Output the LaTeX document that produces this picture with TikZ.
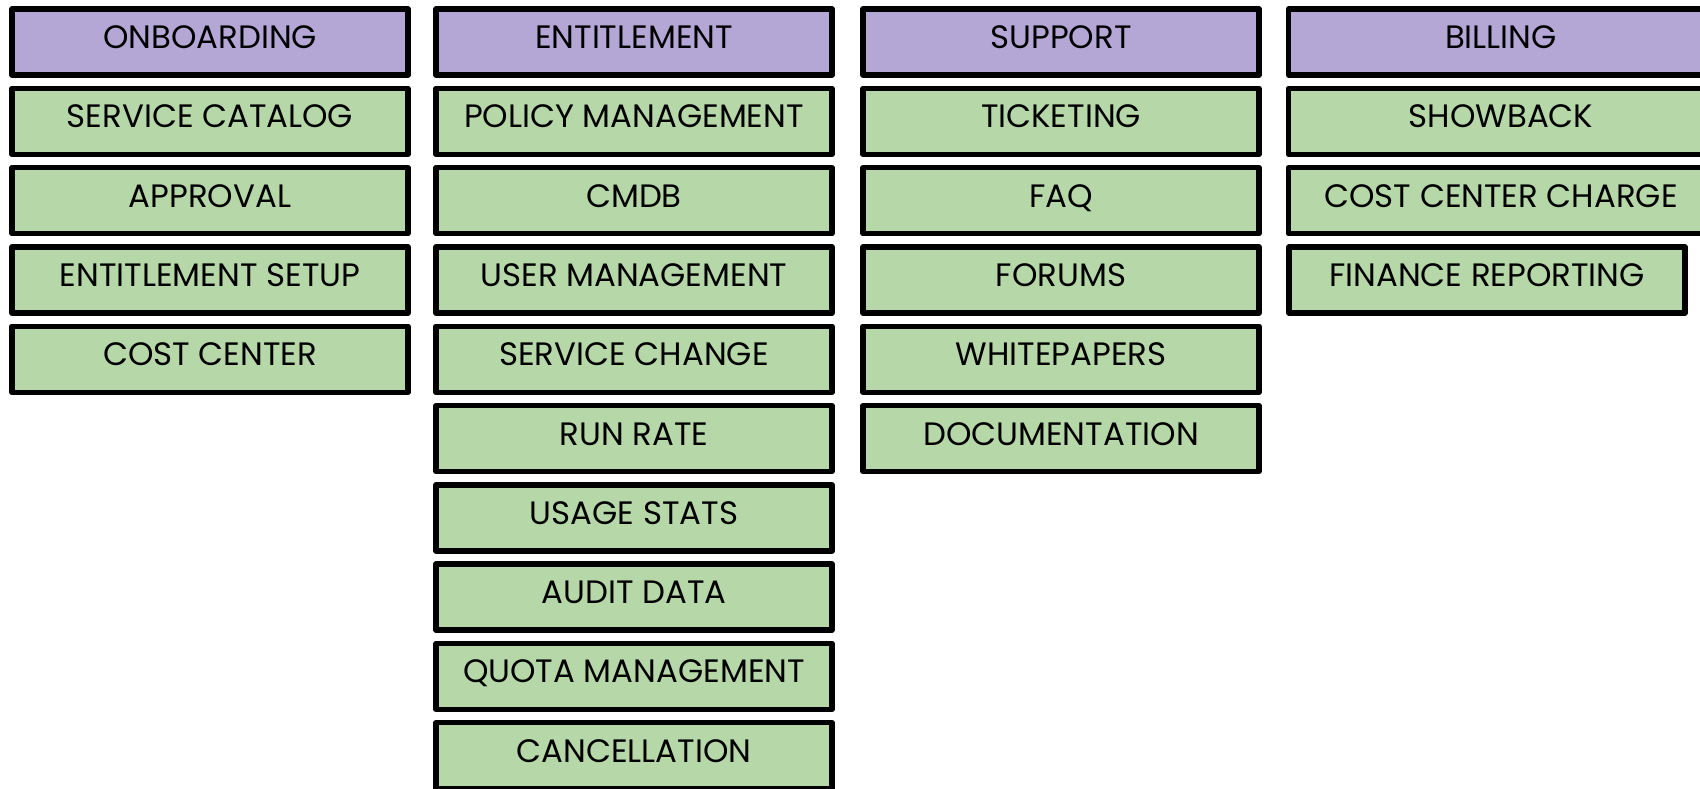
\documentclass[tikz,border=0pt]{standalone}
\usepackage{fontspec}
\setmainfont{Poppins}
\definecolor{hdrfill}{HTML}{B4A7D6}
\definecolor{itemfill}{HTML}{B6D7A8}
\tikzset{
  boxbase/.style={draw=black, line width=2.7pt, line join=round, rectangle,
    minimum width=198pt, minimum height=33pt, inner sep=0pt,
    text height=11.5pt, text depth=5pt, font=\fontsize{16.2pt}{19pt}\selectfont},
  hdr/.style={boxbase, fill=hdrfill},
  item/.style={boxbase, fill=itemfill},
  widebox/.style={minimum width=212.5pt}
}
\begin{document}
\begin{tikzpicture}[x=0.5pt, y=-0.5pt]
\useasboundingbox (0,0) rectangle (1700,788);
\clip (0,0) rectangle (1700,788);
\fill[white] (0,0) rectangle (1700,788);
% column 1
\node[hdr]  (c1h) at (210,42) {ONBOARDING};
\node[item] (c1a) at (210,121.3) {SERVICE CATALOG};
\node[item] (c1b) at (210,200.6) {APPROVAL};
\node[item] (c1c) at (210,279.9) {ENTITLEMENT SETUP};
\node[item] (c1d) at (210,359.2) {COST CENTER};
% column 2
\node[hdr]  (c2h) at (634,42) {ENTITLEMENT};
\node[item] (c2a) at (634,121.3) {POLICY MANAGEMENT};
\node[item] (c2b) at (634,200.6) {CMDB};
\node[item] (c2c) at (634,279.9) {USER MANAGEMENT};
\node[item] (c2d) at (634,359.2) {SERVICE CHANGE};
\node[item] (c2e) at (634,438.5) {RUN RATE};
\node[item] (c2f) at (634,517.8) {USAGE STATS};
\node[item] (c2g) at (634,597.1) {AUDIT DATA};
\node[item] (c2h2) at (634,676.4) {QUOTA MANAGEMENT};
\node[item] (c2i) at (634,755.7) {CANCELLATION};
% column 3
\node[hdr]  (c3h) at (1061,42) {SUPPORT};
\node[item] (c3a) at (1061,121.3) {TICKETING};
\node[item] (c3b) at (1061,200.6) {FAQ};
\node[item] (c3c) at (1061,279.9) {FORUMS};
\node[item] (c3d) at (1061,359.2) {WHITEPAPERS};
\node[item] (c3e) at (1061,438.5) {DOCUMENTATION};
% column 4
\node[hdr, widebox]  (c4h) at (1501,42) {BILLING};
\node[item, widebox] (c4a) at (1501,121.3) {SHOWBACK};
\node[item, widebox] (c4b) at (1501,200.6) {COST CENTER CHARGE};
\node[item] (c4c) at (1487,279.9) {FINANCE REPORTING};
\end{tikzpicture}
\end{document}
